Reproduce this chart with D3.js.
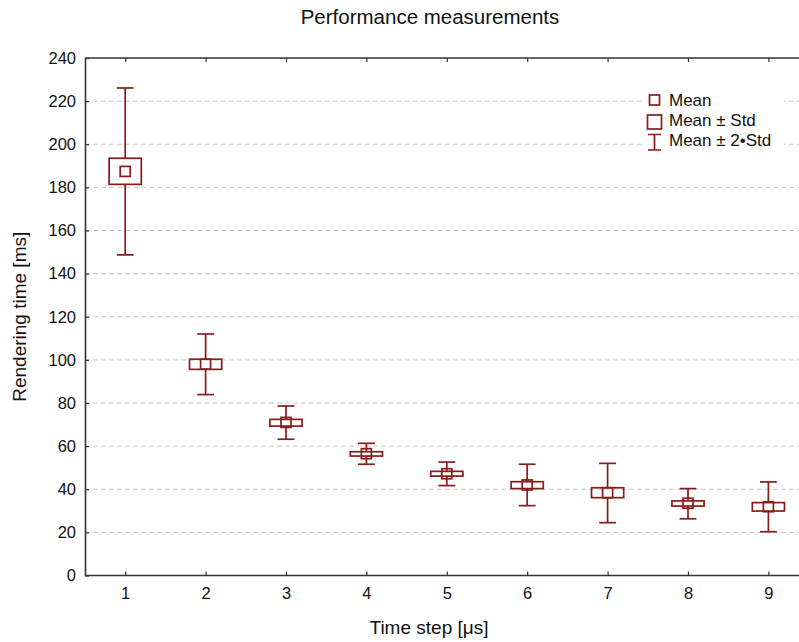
<!DOCTYPE html>
<html>
<head>
<meta charset="utf-8">
<script src="https://cdn.jsdelivr.net/npm/d3@7"></script>
<style>
  body { margin: 0; background: #fff; }
  svg { display: block; font-family: "Liberation Sans", Arial, sans-serif; }
</style>
</head>
<body>
<div class="chart-container"></div>
<script>
// values
const steps = [1, 2, 3, 4, 5, 6, 7, 8, 9];
const means = [187.4, 98.0, 71.0, 56.5, 47.2, 42.0, 38.4, 33.5, 31.9];
const stdLow = [181.4, 95.6, 69.3, 55.4, 46.1, 40.3, 36.1, 32.2, 29.9];
const stdHigh = [193.5, 100.3, 72.4, 57.4, 48.3, 43.5, 40.7, 34.6, 33.8];
const whiskLow = [148.7, 83.9, 63.2, 51.6, 41.7, 32.4, 24.5, 26.3, 20.3];
const whiskHigh = [226.1, 112.0, 78.6, 61.3, 52.6, 51.6, 52.0, 40.3, 43.4];
const yTicks = [0, 20, 40, 60, 80, 100, 120, 140, 160, 180, 200, 220, 240];
const legendLabels = ["Mean", "Mean \u00b1 Std", "Mean \u00b1 2\u2022Std"];

const W = 799, H = 642;
const red = "#8b1a1a";
const margin = {top: 58, left: 85, bottom: 66};

const svg = d3.select(".chart-container").append("svg")
    .attr("width", W)
    .attr("height", H);

const x = d3.scaleLinear().domain([0.5, 9.5]).range([margin.left, margin.left + 9 * 80.4]);
const y = d3.scaleLinear().domain([0, 240]).range([H - margin.bottom - 0.5, margin.top]);

// grid
svg.append("g")
  .selectAll("line")
  .data(yTicks.filter(d => d > 0 && d < 240))
  .enter().append("line")
    .attr("x1", margin.left)
    .attr("x2", W)
    .attr("y1", d => y(d))
    .attr("y2", d => y(d))
    .attr("stroke", "#c8c8c8")
    .attr("stroke-width", 1)
    .attr("stroke-dasharray", "5,3");

// axes (ticks point inward)
const xAxis = svg.append("g")
    .attr("transform", "translate(0," + y(0) + ")")
    .call(d3.axisBottom(x).tickValues(steps).tickSizeInner(-4).tickSizeOuter(0).tickPadding(12));
const xTop = svg.append("g")
    .attr("transform", "translate(0," + y(240) + ")")
    .call(d3.axisTop(x).tickValues(steps).tickSizeInner(-4).tickSizeOuter(0).tickFormat(""));
const yAxis = svg.append("g")
    .attr("transform", "translate(" + margin.left + ",0)")
    .call(d3.axisLeft(y).tickValues(yTicks).tickSizeInner(-4).tickSizeOuter(0).tickPadding(9));

[xAxis, xTop, yAxis].forEach(g => {
  g.select(".domain").attr("stroke", "#333").attr("stroke-width", 1.6);
  g.selectAll(".tick line").attr("stroke", "#333").attr("stroke-width", 1.2);
  g.selectAll(".tick text").attr("fill", "#111").style("font-size", "16.5px");
});
xAxis.select(".domain").attr("d", "M" + margin.left + ",0H" + W);
xTop.select(".domain").attr("d", "M" + margin.left + ",0H" + W);

// boxes
const boxW = x(1.2) - x(0.8);
const capW = x(1.105) - x(0.895);
const mSize = 10;

const groups = svg.append("g")
  .selectAll("g")
  .data(steps.map((s, i) => ({s, m: means[i], lo: stdLow[i], hi: stdHigh[i], wl: whiskLow[i], wh: whiskHigh[i]})))
  .enter().append("g")
    .attr("fill", "none")
    .attr("stroke", red)
    .attr("stroke-width", 1.7);

groups.append("line")
    .attr("x1", d => x(d.s)).attr("x2", d => x(d.s))
    .attr("y1", d => y(d.wh)).attr("y2", d => y(d.hi));
groups.append("line")
    .attr("x1", d => x(d.s)).attr("x2", d => x(d.s))
    .attr("y1", d => y(d.lo)).attr("y2", d => y(d.wl));
groups.append("line")
    .attr("x1", d => x(d.s) - capW / 2).attr("x2", d => x(d.s) + capW / 2)
    .attr("y1", d => y(d.wh)).attr("y2", d => y(d.wh));
groups.append("line")
    .attr("x1", d => x(d.s) - capW / 2).attr("x2", d => x(d.s) + capW / 2)
    .attr("y1", d => y(d.wl)).attr("y2", d => y(d.wl));
groups.append("rect")
    .attr("x", d => x(d.s) - boxW / 2)
    .attr("y", d => y(d.hi))
    .attr("width", boxW)
    .attr("height", d => y(d.lo) - y(d.hi));
groups.append("rect")
    .attr("x", d => x(d.s) - mSize / 2)
    .attr("y", d => y(d.m) - mSize / 2)
    .attr("width", mSize)
    .attr("height", mSize);

// legend
const legend = svg.append("g").attr("transform", "translate(642,88)");
legend.append("rect")
    .attr("width", 142).attr("height", 66)
    .attr("fill", "#fff");
const lx = 12.5;
legend.append("rect")
    .attr("x", lx - 5).attr("y", 7).attr("width", 10).attr("height", 10)
    .attr("fill", "none").attr("stroke", red).attr("stroke-width", 1.7);
legend.append("rect")
    .attr("x", lx - 7).attr("y", 27).attr("width", 14).attr("height", 14)
    .attr("fill", "none").attr("stroke", red).attr("stroke-width", 1.7);
legend.append("path")
    .attr("d", `M${lx - 6.5},46.5H${lx + 6.5}M${lx},46.5V62M${lx - 6.5},62H${lx + 6.5}`)
    .attr("fill", "none").attr("stroke", red).attr("stroke-width", 1.7);
legend.selectAll("text.lab")
  .data(legendLabels)
  .enter().append("text")
    .attr("class", "lab")
    .attr("x", 27)
    .attr("y", (d, i) => 18 + i * 20)
    .attr("fill", "#111")
    .style("font-size", "17px")
    .text(d => d);

// titles
svg.append("text")
    .attr("x", 430).attr("y", 24)
    .attr("text-anchor", "middle")
    .attr("fill", "#111")
    .style("font-size", "20.5px")
    .text("Performance measurements");
svg.append("text")
    .attr("x", 429).attr("y", 634)
    .attr("text-anchor", "middle")
    .attr("fill", "#111")
    .style("font-size", "19px")
    .text("Time step [\u03bcs]");
svg.append("text")
    .attr("transform", "translate(26," + y(120) + ") rotate(-90)")
    .attr("text-anchor", "middle")
    .attr("fill", "#111")
    .style("font-size", "19px")
    .text("Rendering time [ms]");
</script>
</body>
</html>
